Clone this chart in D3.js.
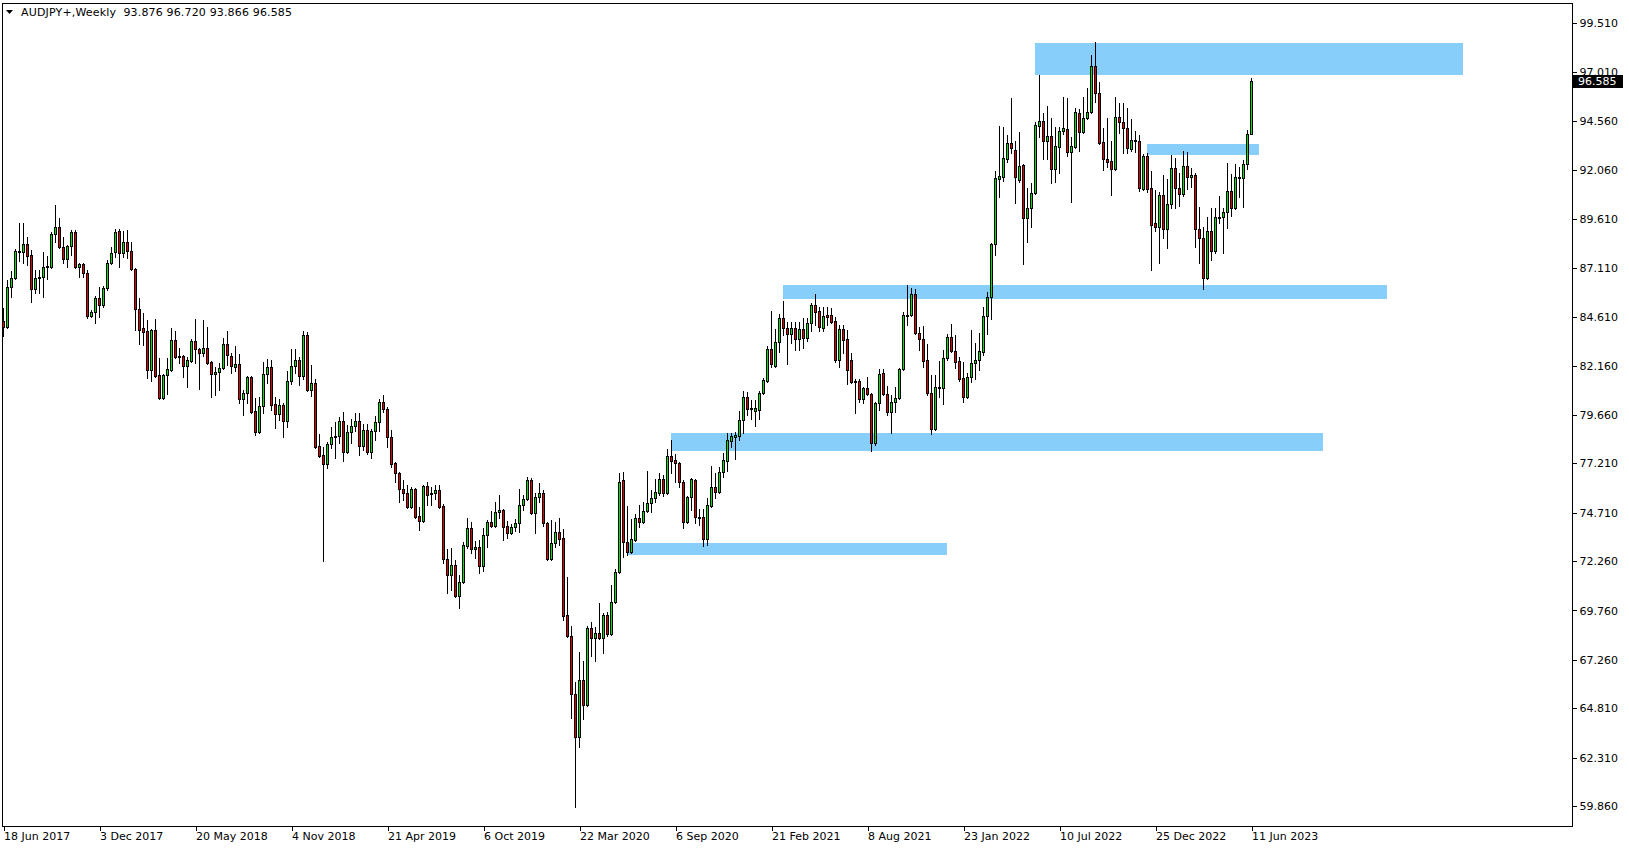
<!DOCTYPE html>
<html>
<head>
<meta charset="utf-8">
<script src="https://cdn.jsdelivr.net/npm/d3@7"></script>
<style>
  html, body { margin: 0; padding: 0; background: #ffffff; }
  svg { display: block; }
  text { font-family: "DejaVu Sans", Verdana, sans-serif; font-size: 11px; fill: #000; }
</style>
</head>
<body>
<script>
// ---------------- DATA ----------------
const symbolTitle = "AUDJPY+,Weekly";
const lastQuote = [93.876, 96.720, 93.866, 96.585];      // O H L C of the current bar
const firstBarDate = "2017-06-18";                          // one bar per week

// weekly candles [open, high, low, close]
const weeklyOHLC = [
[84.42,85.07,83.66,84.11],[84.11,86.50,84.05,86.15],[86.15,86.96,85.64,86.60],[86.60,88.07,86.55,87.97],
[87.91,89.39,87.46,87.97],[87.91,89.39,87.36,88.32],[88.32,88.68,87.26,87.72],[87.77,88.02,85.38,86.05],
[86.05,87.01,85.84,86.60],[86.60,87.01,85.84,86.65],[86.65,87.91,85.64,87.16],[87.16,87.72,86.55,87.21],
[87.16,88.93,87.10,88.83],[88.83,90.30,88.42,89.18],[89.18,89.64,88.12,88.17],[88.17,88.68,87.36,87.56],
[87.56,88.27,87.16,88.22],[88.22,89.03,87.77,88.93],[88.93,89.03,87.10,87.16],[87.16,87.36,86.65,87.31],
[87.31,87.36,86.65,86.85],[86.85,87.01,84.57,84.67],[84.67,84.97,84.62,84.87],[84.87,85.69,84.32,85.59],
[85.59,86.15,84.62,85.23],[85.23,86.20,85.13,86.10],[86.10,87.51,86.00,87.36],[87.36,88.17,87.31,87.87],
[87.91,89.08,87.67,88.93],[88.98,89.08,87.16,87.87],[87.87,88.98,87.67,88.42],[88.42,89.03,87.61,87.97],
[87.97,88.42,87.00,87.06],[87.06,87.10,83.96,85.02],[85.02,85.59,83.25,83.96],[84.06,84.82,83.20,83.86],
[83.91,84.47,81.53,81.94],[81.94,84.00,81.38,83.96],[83.96,84.52,81.58,81.63],[81.68,82.54,80.47,80.52],
[80.52,81.73,80.47,81.68],[81.68,82.54,80.72,81.99],[81.94,84.06,81.89,83.46],[83.46,83.91,82.54,82.59],
[82.59,83.05,82.29,82.65],[82.65,82.70,81.58,82.14],[82.14,82.59,81.08,82.44],[82.39,83.51,82.34,83.41],
[83.41,84.52,82.29,83.00],[83.00,83.05,80.98,82.80],[82.80,84.47,82.65,83.05],[83.05,84.11,82.24,82.29],
[82.34,82.39,80.57,81.73],[81.73,82.09,80.67,81.84],[81.84,82.29,80.93,82.04],[82.04,83.56,81.99,83.25],
[83.25,83.91,82.19,82.70],[82.65,82.80,81.79,82.14],[82.09,83.15,81.89,82.24],[82.24,82.75,80.27,80.47],
[80.47,80.93,79.66,80.77],[80.77,81.63,80.27,81.58],[81.58,81.63,79.76,79.81],[79.86,80.52,78.65,78.80],
[78.80,80.57,78.75,80.12],[80.12,82.34,79.76,81.73],[81.73,82.49,81.28,82.09],[82.09,82.44,79.91,80.17],
[80.22,80.57,79.00,79.71],[79.71,80.47,79.41,80.17],[80.17,80.27,78.55,79.36],[79.36,81.89,79.05,81.38],
[81.38,83.00,81.23,82.14],[82.14,83.00,81.79,82.44],[82.44,82.59,81.18,81.63],[81.63,83.91,81.48,83.71],
[83.71,83.86,80.88,80.93],[80.93,82.19,80.62,81.28],[81.28,81.48,77.99,78.04],[78.09,78.70,77.54,77.59],
[77.63,78.04,72.27,77.18],[77.18,78.29,76.98,78.19],[78.19,79.05,77.99,78.55],[78.55,79.30,77.48,78.60],
[78.60,79.56,78.24,79.36],[79.36,79.81,77.33,77.79],[77.79,79.15,77.74,78.80],[78.80,79.46,78.24,79.10],
[79.10,79.76,78.85,79.36],[79.36,79.76,77.63,78.09],[78.09,79.20,77.89,78.90],[78.90,79.20,77.69,77.79],
[77.79,78.95,77.48,78.85],[78.85,79.61,78.39,79.30],[79.30,80.47,78.85,80.32],[80.32,80.67,79.81,79.96],
[79.96,80.07,78.04,78.55],[78.55,78.90,77.03,77.18],[77.23,77.28,76.27,76.72],[76.72,76.77,75.25,75.91],
[75.91,76.37,75.36,75.71],[75.71,76.11,74.95,75.00],[75.00,76.01,74.95,75.91],[75.91,75.96,74.44,74.49],
[74.54,75.00,73.84,74.29],[74.29,76.11,74.24,76.06],[76.06,76.27,75.10,75.61],[75.66,76.01,75.10,75.71],
[75.71,76.11,75.41,75.86],[75.86,76.11,74.95,75.00],[75.05,75.15,72.17,72.37],[72.37,72.88,70.65,71.56],
[71.56,72.93,70.80,72.06],[72.06,72.32,70.44,70.49],[70.49,71.56,69.89,71.20],[71.20,73.23,71.15,73.08],
[73.03,74.44,72.93,73.94],[73.94,74.24,72.67,72.88],[72.88,73.28,72.42,72.98],[72.98,73.33,71.66,72.01],
[72.01,73.94,71.76,73.58],[73.58,74.34,72.98,74.24],[74.24,74.80,73.99,74.04],[74.04,75.25,73.99,74.75],
[74.75,75.61,74.44,74.85],[74.85,74.90,73.33,73.99],[74.04,74.29,73.43,73.68],[73.68,74.14,73.63,73.99],
[73.99,74.39,73.79,74.19],[74.19,75.91,73.74,75.10],[75.10,75.61,74.85,75.41],[75.41,76.52,75.36,76.37],
[76.37,76.47,74.65,74.70],[74.70,75.71,73.68,75.51],[75.51,76.22,75.25,75.71],[75.71,75.86,74.04,74.19],
[74.19,74.24,72.32,72.37],[72.37,74.34,72.32,73.18],[73.18,74.24,72.98,73.74],[73.74,74.44,73.08,73.38],
[73.43,73.89,69.28,69.48],[69.53,71.46,68.42,68.47],[68.47,68.97,64.32,65.53],[65.53,66.14,59.81,63.35],
[63.35,67.66,62.85,66.24],[66.24,67.20,64.27,64.97],[64.97,68.97,64.92,68.87],[68.87,69.18,67.46,68.37],
[68.37,68.92,67.20,68.62],[68.62,70.14,68.32,68.37],[68.37,69.63,67.61,69.53],[69.53,69.68,68.47,68.57],
[68.57,71.05,68.52,70.19],[70.19,71.86,70.14,71.71],[71.71,76.72,71.66,76.27],[76.37,76.77,72.47,73.23],
[73.23,75.05,72.57,72.72],[72.72,74.39,72.67,73.38],[73.33,74.65,73.28,74.44],[74.44,75.10,73.99,74.24],
[74.24,75.25,74.19,74.80],[74.80,76.82,74.75,75.20],[75.20,75.86,74.75,75.46],[75.46,76.42,75.25,75.76],
[75.71,76.72,75.61,76.42],[76.42,76.62,75.56,75.71],[75.71,77.94,75.66,77.59],[77.59,78.39,76.72,77.33],
[77.38,77.69,76.27,77.23],[77.23,77.28,76.01,76.27],[76.27,76.37,73.94,74.24],[74.24,75.56,74.19,75.51],
[75.51,76.47,74.85,76.42],[76.37,76.42,74.19,74.49],[74.49,74.90,74.09,74.44],[74.49,74.90,73.03,73.38],
[73.38,75.46,73.08,75.10],[75.05,77.08,75.00,76.01],[76.01,76.72,75.46,75.76],[75.76,77.03,75.71,76.77],
[76.77,77.74,76.52,77.38],[77.33,78.75,76.82,78.39],[78.34,78.75,78.04,78.60],[78.55,78.80,77.43,78.65],
[78.60,79.86,78.39,79.41],[79.41,80.88,78.75,80.57],[80.57,80.82,79.66,79.96],[80.02,80.42,79.46,79.96],
[79.86,80.42,79.10,80.02],[79.91,80.88,79.46,80.77],[80.77,81.53,80.72,81.43],[81.38,83.15,81.33,83.00],
[83.00,84.92,82.09,82.24],[82.14,84.02,82.09,83.36],[83.36,84.77,82.85,84.57],[84.57,85.43,83.71,84.06],
[84.06,84.37,82.24,83.76],[83.76,84.37,83.31,84.06],[84.06,84.37,82.95,83.51],[83.51,84.37,82.95,84.02],
[84.02,84.57,83.05,83.56],[83.56,84.57,83.41,84.32],[84.32,85.33,83.91,85.23],[85.23,85.79,84.22,84.87],
[84.92,85.13,83.91,84.11],[84.06,85.13,83.91,84.67],[84.72,85.13,84.22,84.62],[84.72,85.07,84.32,84.37],
[84.42,84.62,82.34,82.44],[82.44,84.22,82.09,84.02],[84.02,84.22,82.80,83.46],[83.51,83.96,81.23,81.94],
[82.44,82.80,81.28,81.33],[81.38,81.48,79.76,81.33],[81.38,81.48,80.32,80.47],[80.47,81.08,80.27,81.03],
[81.03,81.58,80.67,80.72],[80.72,80.77,77.84,78.24],[78.24,80.32,78.14,80.27],[80.27,81.99,79.91,81.73],
[81.79,81.99,80.67,80.72],[80.72,81.13,79.66,79.81],[79.81,80.67,78.75,80.32],[80.32,81.08,79.81,80.52],
[80.52,82.04,80.47,81.99],[81.99,84.87,81.94,84.72],[84.67,86.25,84.22,84.72],[84.72,86.10,84.67,85.79],
[85.79,86.05,83.76,83.81],[83.81,84.11,82.95,83.51],[83.51,84.17,82.09,82.39],[82.44,83.25,80.67,80.77],
[80.77,81.68,78.70,78.95],[78.95,81.68,78.90,81.08],[81.03,82.39,80.57,81.08],[81.03,82.95,80.22,82.54],
[82.54,83.76,82.44,83.61],[83.61,84.27,82.85,82.90],[82.90,83.71,82.04,82.34],[82.39,82.59,81.38,81.48],
[81.53,82.34,80.32,80.57],[80.57,81.79,80.52,81.58],[81.58,83.96,81.33,82.29],[82.29,83.31,81.48,82.44],
[82.44,83.81,81.94,82.90],[82.85,85.13,82.70,84.67],[84.67,85.89,83.76,85.64],[85.64,88.37,84.52,88.32],
[88.32,92.02,87.77,91.66],[91.61,94.29,90.70,91.76],[91.71,94.24,91.51,92.67],[92.62,93.84,92.47,93.43],
[93.43,95.71,92.93,93.18],[93.08,93.53,90.40,91.71],[91.56,93.99,91.46,92.27],[92.32,92.37,87.31,89.64],
[89.64,91.15,88.42,90.14],[90.14,91.41,89.18,90.90],[90.90,94.50,90.85,94.35],[94.29,96.88,93.74,94.55],
[94.55,94.95,92.62,93.53],[93.53,95.31,92.62,93.79],[93.79,94.70,91.41,92.12],[92.12,94.24,91.46,93.28],
[93.23,94.24,91.91,94.04],[94.04,95.76,93.89,94.19],[94.14,95.71,92.78,92.98],[92.98,93.74,90.45,93.28],
[93.23,95.21,93.18,95.00],[94.95,95.16,93.03,93.99],[93.99,95.76,93.94,94.70],[94.70,96.22,94.65,95.00],
[95.00,97.89,94.95,97.33],[97.33,98.55,95.51,95.97],[95.97,96.52,93.38,93.43],[93.48,94.19,92.07,92.62],
[92.62,94.70,92.22,92.47],[92.52,93.53,90.80,92.12],[92.12,95.76,92.07,94.75],[94.75,95.46,93.94,94.50],
[94.50,95.46,92.93,94.19],[94.19,95.21,92.93,93.18],[93.13,94.65,93.03,93.59],[93.53,94.04,92.98,93.59],
[93.53,93.84,91.00,91.15],[91.10,92.88,91.05,92.78],[92.78,92.93,90.95,91.10],[91.15,92.02,87.01,89.28],
[89.38,91.05,88.98,89.18],[89.18,90.95,87.36,90.80],[90.80,91.81,88.62,89.08],[89.08,91.61,88.12,90.35],
[90.35,92.83,90.14,92.17],[92.17,92.67,90.14,91.15],[91.15,91.91,90.24,90.85],[90.85,93.03,90.75,92.27],
[92.27,92.98,91.10,91.71],[91.71,92.17,91.21,91.81],[91.81,91.91,88.17,89.08],[89.08,90.19,87.36,88.62],
[88.62,89.18,86.05,86.60],[86.60,89.69,86.55,88.98],[88.98,90.14,87.51,87.97],[87.97,90.14,87.87,89.69],
[89.64,90.75,89.38,89.69],[89.69,90.14,87.87,89.94],[89.94,92.42,89.13,91.00],[91.00,91.86,89.74,90.14],
[90.14,92.37,90.09,91.71],[91.66,92.22,90.70,91.71],[91.66,92.57,90.19,92.37],[92.37,94.09,92.12,93.89],
[93.876,96.720,93.866,96.585]
];

// supply / demand zones drawn on the chart: [from, to, upper price, lower price]
const zones = [
  ["2022-05-29", "2024-06-16", 98.50, 96.88],
  ["2022-12-11", "2023-06-25", 93.38, 92.83],
  ["2021-03-14", "2024-02-04", 86.25, 85.53],
  ["2020-08-30", "2023-10-15", 78.75, 77.84],
  ["2020-06-14", "2021-12-26", 73.18, 72.57]
];

const priceTicks = [99.510, 97.010, 94.560, 92.060, 89.610, 87.110, 84.610, 82.160,
                    79.660, 77.210, 74.710, 72.260, 69.760, 67.260, 64.810, 62.310, 59.860];
const dateTicks = ["2017-06-18","2017-12-03","2018-05-20","2018-11-04","2019-04-21","2019-10-06",
                   "2020-03-22","2020-09-06","2021-02-21","2021-08-08","2022-01-23","2022-07-10",
                   "2022-12-25","2023-06-11"];

// ---------------- LAYOUT ----------------
const W = 1629, H = 850;
const frame = { left: 2, top: 3, right: 1572, bottom: 826 };
const WEEK = 7 * 864e5;
const bullColor = "#00e400", bearColor = "#e00000", zoneColor = "#87cefa";

const svg = d3.select("body").append("svg").attr("width", W).attr("height", H)
  .attr("shape-rendering", "crispEdges");
svg.append("rect").attr("width", W).attr("height", H).attr("fill", "#fff");

const t0 = d3.utcParse("%Y-%m-%d")(firstBarDate);
const barDate = i => new Date(t0.getTime() + i * WEEK);
const parse = d3.utcParse("%Y-%m-%d");

const x = d3.scaleUtc()
  .domain([t0, barDate(392)])
  .range([3, 3 + 4 * 392]);
const y = d3.scaleLinear()
  .domain([59.86, 99.51])
  .range([806, 23]);

svg.append("clipPath").attr("id", "plot")
  .append("rect").attr("x", frame.left + 1).attr("y", frame.top + 1)
  .attr("width", frame.right - frame.left - 1).attr("height", frame.bottom - frame.top - 1);

const plot = svg.append("g").attr("clip-path", "url(#plot)");

// zones
plot.append("g").selectAll("rect").data(zones).join("rect")
  .attr("x", d => Math.round(x(parse(d[0]))))
  .attr("width", d => Math.round(x(parse(d[1]))) - Math.round(x(parse(d[0]))))
  .attr("y", d => Math.round(y(d[2])))
  .attr("height", d => Math.round(y(d[3])) - Math.round(y(d[2])))
  .attr("fill", zoneColor);

// candles
const bars = weeklyOHLC.map((d, i) => ({ date: barDate(i), o: d[0], h: d[1], l: d[2], c: d[3] }));
const cg = plot.append("g");
const candle = cg.selectAll("g").data(bars).join("g");
candle.append("rect")   // wick
  .attr("x", d => Math.round(x(d.date)))
  .attr("width", 1)
  .attr("y", d => Math.round(y(d.h)))
  .attr("height", d => Math.max(1, Math.round(y(d.l)) - Math.round(y(d.h)) + 1))
  .attr("fill", "#000");
candle.append("rect")   // body outline
  .attr("x", d => Math.round(x(d.date)) - 1)
  .attr("width", 3)
  .attr("y", d => Math.round(y(Math.max(d.o, d.c))))
  .attr("height", d => Math.max(1, Math.round(y(Math.min(d.o, d.c))) - Math.round(y(Math.max(d.o, d.c))) + 1))
  .attr("fill", "#000");
candle.filter(d => Math.round(y(Math.min(d.o, d.c))) - Math.round(y(Math.max(d.o, d.c))) > 1)
  .append("rect")       // body fill
  .attr("x", d => Math.round(x(d.date)))
  .attr("width", 1)
  .attr("y", d => Math.round(y(Math.max(d.o, d.c))) + 1)
  .attr("height", d => Math.round(y(Math.min(d.o, d.c))) - Math.round(y(Math.max(d.o, d.c))) - 1)
  .attr("fill", d => d.c >= d.o ? bullColor : bearColor);

// frame
svg.append("rect")
  .attr("x", frame.left + 0.5).attr("y", frame.top + 0.5)
  .attr("width", frame.right - frame.left).attr("height", frame.bottom - frame.top)
  .attr("fill", "none").attr("stroke", "#000").attr("stroke-width", 1);

// price axis
const yAxis = d3.axisRight(y).tickValues(priceTicks).tickSize(4).tickPadding(3)
  .tickFormat(d3.format(".3f"));
const ya = svg.append("g").attr("transform", `translate(${frame.right + 0.5},0)`).call(yAxis);
ya.select(".domain").remove();
ya.selectAll("line").attr("stroke", "#000");
ya.selectAll("text").attr("font-family", "DejaVu Sans").attr("font-size", 11).attr("fill", "#000");

// date axis
const fmt = d3.utcFormat("%-d %b %Y");
const xAxis = d3.axisBottom(x).tickValues(dateTicks.map(parse)).tickSize(4).tickFormat(fmt);
const xa = svg.append("g").attr("transform", `translate(0.5,${frame.bottom + 0.5})`).call(xAxis);
xa.select(".domain").remove();
xa.selectAll("line").attr("stroke", "#000");
xa.selectAll("text").attr("text-anchor", "start").attr("x", 0).attr("y", 6)
  .attr("dy", "0.71em").attr("font-family", "DejaVu Sans").attr("font-size", 11).attr("fill", "#000");

// current price label
const lastY = Math.round(y(lastQuote[3]));
svg.append("rect").attr("x", frame.right + 1).attr("y", lastY - 6)
  .attr("width", 50).attr("height", 13).attr("fill", "#000");
svg.append("text").attr("x", frame.right + 6).attr("y", lastY).attr("dy", "0.35em")
  .style("fill", "#fff").text(d3.format(".3f")(lastQuote[3]));

// header
svg.append("path").attr("d", "M6,10 L13,10 L9.5,14 Z").attr("fill", "#000")
  .attr("shape-rendering", "auto");
svg.append("text").attr("x", 21).attr("y", 16)
  .style("white-space", "pre")
  .attr("textLength", 271).attr("lengthAdjust", "spacing")
  .text(symbolTitle + "  " + lastQuote.map(d3.format(".3f")).join(" "));
</script>
</body>
</html>
